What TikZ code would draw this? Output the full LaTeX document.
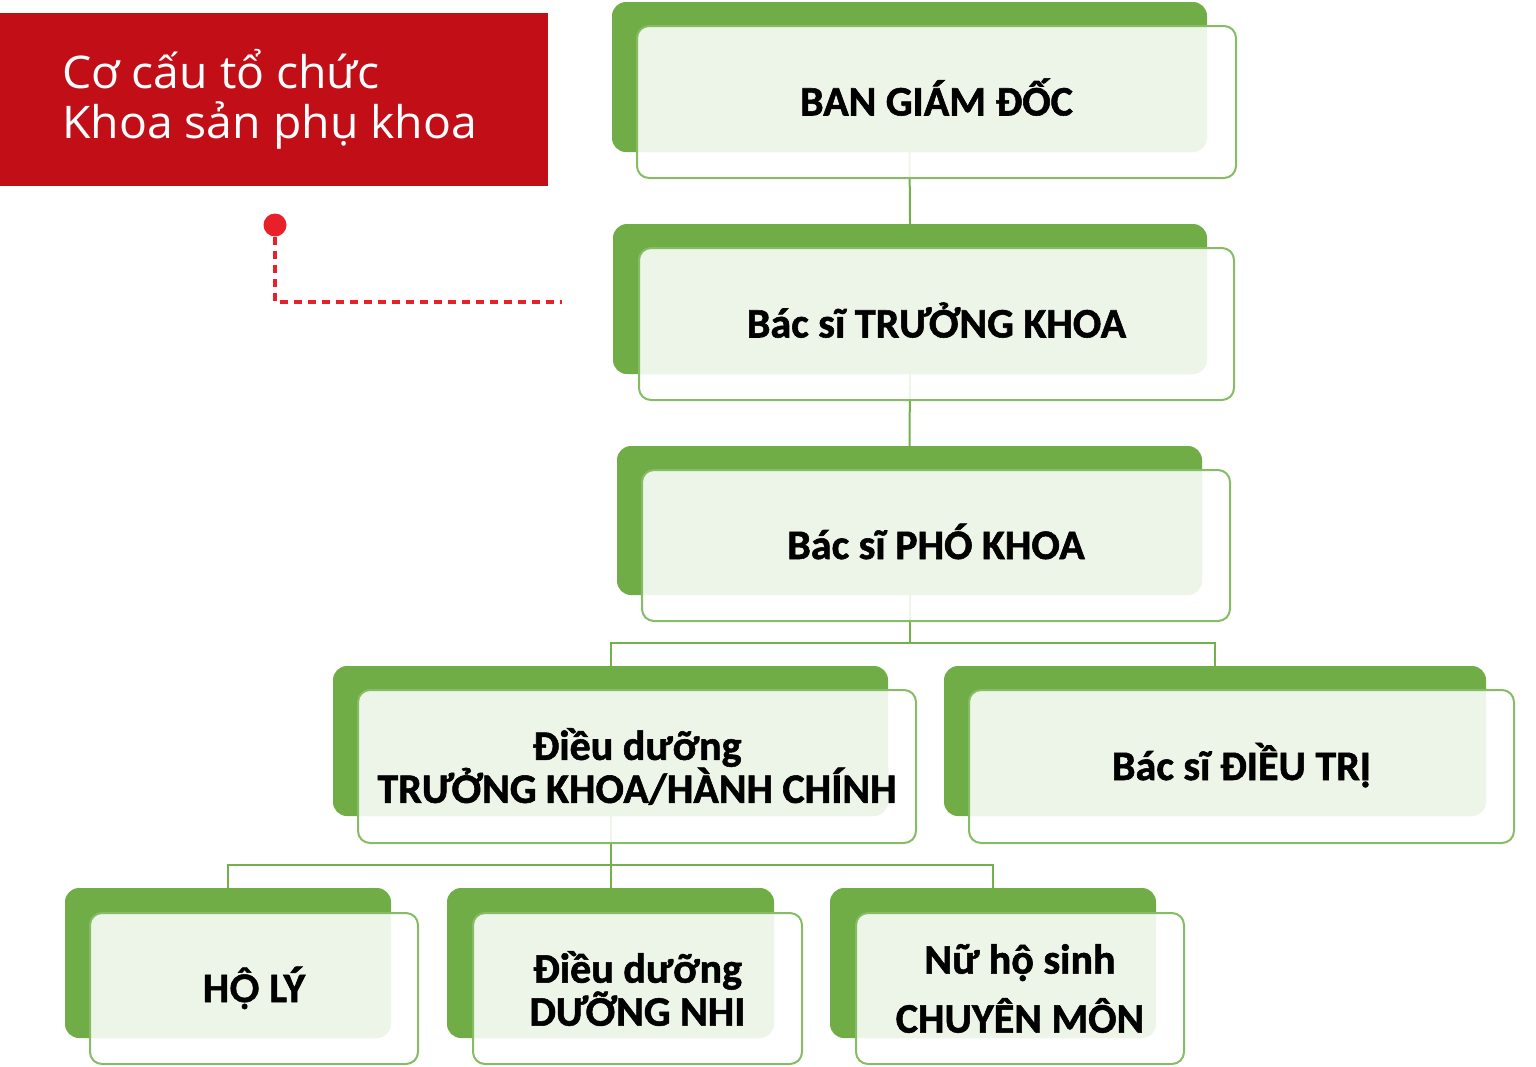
\documentclass[tikz,border=0pt]{standalone}
\usepackage{fontspec}
\setmainfont{Carlito}[BoldFeatures={FakeBold=1.3}]
\newfontfamily\headfont{Open Sans}[FakeStretch=1.03]
\newfontfamily\latob{Lato}[Scale=0.9, BoldFeatures={FakeBold=1.3}]
\definecolor{gback}{HTML}{70AD47}
\definecolor{gfront}{HTML}{86BC63}
\definecolor{gline}{HTML}{74B04C}
\definecolor{hred}{HTML}{C20E17}
\definecolor{dred}{HTML}{E8202A}
\begin{document}
\begin{tikzpicture}[x=1pt,y=-1pt,
  back/.style={draw=none, fill=gback, rounded corners=14pt, inner sep=0pt},
  front/.style={draw=gfront, line width=2pt, fill=white, fill opacity=0.88, text opacity=1,
    rounded corners=12pt, inner sep=0pt, align=center,
    font=\fontsize{42}{43}\selectfont\bfseries},
  oneline/.style={text height=27pt, text depth=0pt},
  link/.style={draw=gline, line width=2pt},
  dashline/.style={draw=dred, line width=3.2pt, dash pattern=on 8pt off 6pt}]
\useasboundingbox (0,0) rectangle (1536,1066);

% title
\node[fill=hred, anchor=north west, minimum width=548pt, minimum height=173pt, inner sep=0pt] (title) at (0,13) {};
\node[anchor=west, align=left, text=white, inner sep=0pt,
  font=\headfont\fontsize{45}{50}\selectfont] (titletext) at (62,99) {Cơ cấu tổ chức\\Khoa sản phụ khoa};

% red marker
\node[circle, fill=dred, minimum size=23pt, inner sep=0pt] (dot) at (275,225) {};
\coordinate (dend) at (562,302);
\draw[dashline] (dot.south) |- (dend);

% back boxes
\node[back, minimum width=595pt, minimum height=150pt] (b1) at (909.5,77) {};
\node[back, minimum width=594pt, minimum height=150pt] (b2) at (910,299) {};
\node[back, minimum width=585pt, minimum height=149pt] (b3) at (909.5,520.5) {};
\node[back, minimum width=555pt, minimum height=150pt] (b4) at (610.5,741) {};
\node[back, minimum width=542pt, minimum height=150pt] (b5) at (1215,741) {};
\node[back, minimum width=326pt, minimum height=150pt] (b6) at (228,963) {};
\node[back, minimum width=327pt, minimum height=150pt] (b7) at (610.5,963) {};
\node[back, minimum width=326pt, minimum height=150pt] (b8) at (993,963) {};

% connectors
\draw[link] (b1.south) -- (b2.north);
\draw[link] (b2.south) -- (b3.north);
\coordinate (j1) at (909.5,643);
\draw[link] (b3.south) -- (j1);
\draw[link] (j1) -| (b4.north);
\draw[link] (j1) -| (b5.north);
\coordinate (j2) at (610.5,865);
\draw[link] (b4.south) -- (j2);
\draw[link] (j2) -| (b6.north);
\draw[link] (j2) -- (b7.north);
\draw[link] (j2) -| (b8.north);

% front boxes
\node[front, oneline, minimum width=599pt, minimum height=152pt] (f1) at (936.5,102) {BAN GIÁM ĐỐC};
\node[front, oneline, minimum width=595pt, minimum height=152pt] (f2) at (936.5,324) {Bác sĩ TRƯỞNG KHOA};
\node[front, oneline, minimum width=588pt, minimum height=151pt] (f3) at (936,545.5) {Bác sĩ PHÓ KHOA};
\node[front, minimum width=558pt, minimum height=153pt] (f4) at (637,766.5) {Điều dưỡng\\TRƯỞNG KHOA/HÀNH CHÍNH};
\node[front, oneline, minimum width=545pt, minimum height=153pt] (f5) at (1241.5,766.5) {Bác sĩ ĐIỀU TRỊ};
\node[front, oneline, minimum width=328pt, minimum height=151pt] (f6) at (254,988.5) {H{\latob\bfseries Ộ} LÝ};
\node[front, minimum width=329pt, minimum height=151pt] (f7) at (637.5,988.5) {Điều dưỡng\\DƯỠNG NHI};
\node[front, minimum width=328pt, minimum height=151pt] (f8) at (1020,988.5) {Nữ hộ sinh\\[16pt]CHUYÊN MÔN};
\end{tikzpicture}
\end{document}
